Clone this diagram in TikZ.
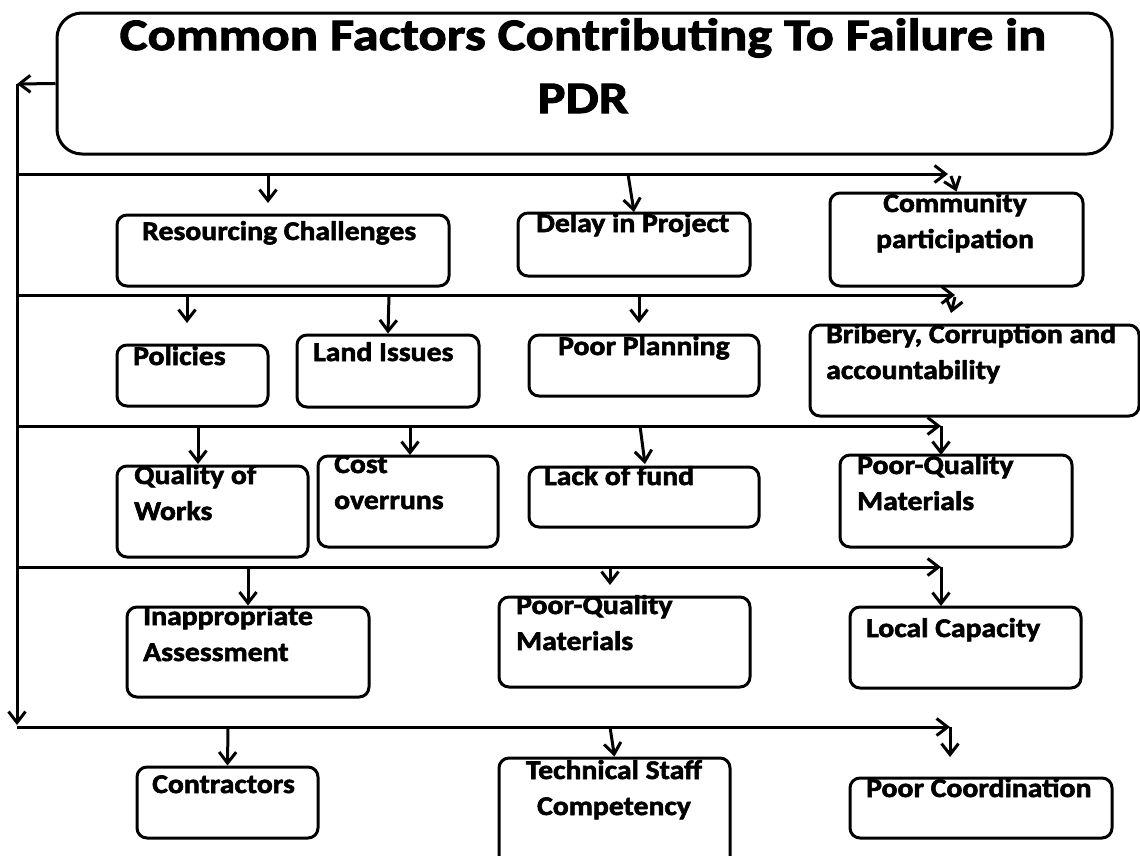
\documentclass[tikz,border=0pt]{standalone}
\usepackage{fontspec}
\setmainfont{Carlito}[FakeStretch=1.1, BoldFeatures={FakeBold=2.2}]
\newfontfamily\titlefont{Carlito}[FakeStretch=1.17, BoldFeatures={FakeBold=2.2}]
\usetikzlibrary{arrows.meta}

\tikzset{
  wire/.style={line width=3pt},
  arr/.style={wire, -{Straight Barb[length=11pt,width=17pt]}},
  box/.style={draw, line width=3pt, rounded corners=10pt, inner sep=0pt},
  lbl/.style={inner sep=0pt, font=\bfseries\fontsize{27}{36}\selectfont, align=left, anchor=base west},
  clbl/.style={lbl, align=center, anchor=base},
}
% rounded box given by its corners: name, x1, y1, x2, y2
\newcommand\boxat[5]{\node[box, minimum width={#4-#2}, minimum height={#5-#3}] (#1) at ({(#2+#4)/2},{(#3+#5)/2}) {};}

\begin{document}
\begin{tikzpicture}[x=1pt,y=-1pt]
\clip (0,0) rectangle (1140,855);

% title (multi-line labels are placed by the baseline of their last line)
\node[box, rounded corners=25pt, minimum width=1055, minimum height=141] (title) at (584.5,83.5) {};
\node[inner sep=0pt, anchor=base, align=center, font=\titlefont\bfseries\fontsize{45}{63}\selectfont] (title-t) at (583,113) {Common Factors Contributing To Failure in\\PDR};

% factor boxes
\boxat{res}{117}{215}{449}{286}
\boxat{delay}{518}{213}{750}{276}
\boxat{comm}{830}{193}{1083}{286}
\boxat{pol}{117}{345}{268}{406}
\boxat{land}{297}{335}{479}{407}
\boxat{plan}{529}{335}{759}{396}
\boxat{brib}{810}{325}{1139}{416}
\boxat{qual}{117}{466}{308}{557}
\boxat{cost}{318}{456}{498}{547}
\boxat{lack}{529}{467}{759}{527}
\boxat{pqma}{840}{455}{1072}{547}
\boxat{inap}{127}{607}{369}{697}
\boxat{pqmb}{499}{597}{750}{687}
\boxat{local}{850}{607}{1081}{688}
\boxat{contr}{137}{767}{318}{838}
\boxat{tech}{499}{758}{730}{880}
\boxat{coord}{850}{778}{1112}{838}

% labels
\node[lbl] (res-t) at (142,240) {Resourcing Challenges};
\node[lbl] (delay-t) at (536,232) {Delay in Project};
\node[clbl] (comm-t) at (955,248) {Community\\participation};
\node[lbl] (pol-t) at (133,365) {Policies};
\node[lbl] (land-t) at (313,361) {Land Issues};
\node[lbl] (plan-t) at (558,355) {Poor Planning};
\node[lbl] (brib-t) at (826,379) {Bribery, Corruption and\\accountability};
\node[lbl] (qual-t) at (134,520) {Quality of\\Works};
\node[lbl] (cost-t) at (334,509) {Cost\\overruns};
\node[lbl] (lack-t) at (544,485) {Lack of fund};
\node[lbl] (pqma-t) at (857,510) {Poor-Quality\\Materials};
\node[lbl] (inap-t) at (143,661) {Inappropriate\\Assessment};
\node[lbl] (pqmb-t) at (516,650) {Poor-Quality\\Materials};
\node[lbl] (local-t) at (866,637) {Local Capacity};
\node[lbl] (contr-t) at (152,793) {Contractors};
\node[clbl] (tech-t) at (614,815) {Technical Staff\\Competency};
\node[lbl] (coord-t) at (866,797) {Poor Coordination};

% spine from the title down the left side
\coordinate (top) at (17,84);
\coordinate (b1) at (17,174);
\coordinate (b2) at (17,295);
\coordinate (b3) at (17,426);
\coordinate (b4) at (17,567);
\coordinate (b5) at (17,727);
\draw[arr] (title.west) -- (top);
\draw[arr] (top) -- (17,725);

% bus 1
\draw[arr] (b1) -- (948,174) coordinate (e1);
\draw[arr] (e1) ++(3,2) -- (comm.north);
\draw[arr] (b1) ++(251,0) -- ++(0,29);
\draw[arr] (b1) ++(611,0) -- (634,212);

% bus 2
\draw[arr] (b2) -- (955,295) coordinate (e2);
\draw[arr] (e2) ++(0,2) -- (951,313);
\draw[arr] (b2) ++(170,0) -- ++(0,28);
\draw[arr] (b2) ++(372,0) -- (land.north);
\draw[arr] (b2) ++(622,0) -- ++(0,28);

% bus 3
\draw[arr] (b3) -- (941,426) coordinate (e3);
\draw[arr] (e3) -- (941,455);
\draw[arr] (b3) ++(181,0) -- ++(0,38);
\draw[arr] (b3) ++(393,0) -- ++(0,29);
\draw[arr] (b3) ++(623,0) -- (645,464);

% bus 4
\draw[arr] (b4) -- (941,567) coordinate (e4);
\draw[arr] (e4) -- (941,606);
\draw[arr] (b4) ++(231,0) -- (inap.north);
\draw[arr] (b4) ++(593,0) -- ++(0,18);

% bus 5
\draw[arr] (b5) -- (950,727) coordinate (e5);
\draw[arr] (e5) -- ++(0,30);
\draw[arr] (b5) ++(211,0) -- (contr.north);
\draw[arr] (b5) ++(593,0) -- (tech.north);
\end{tikzpicture}
\end{document}
